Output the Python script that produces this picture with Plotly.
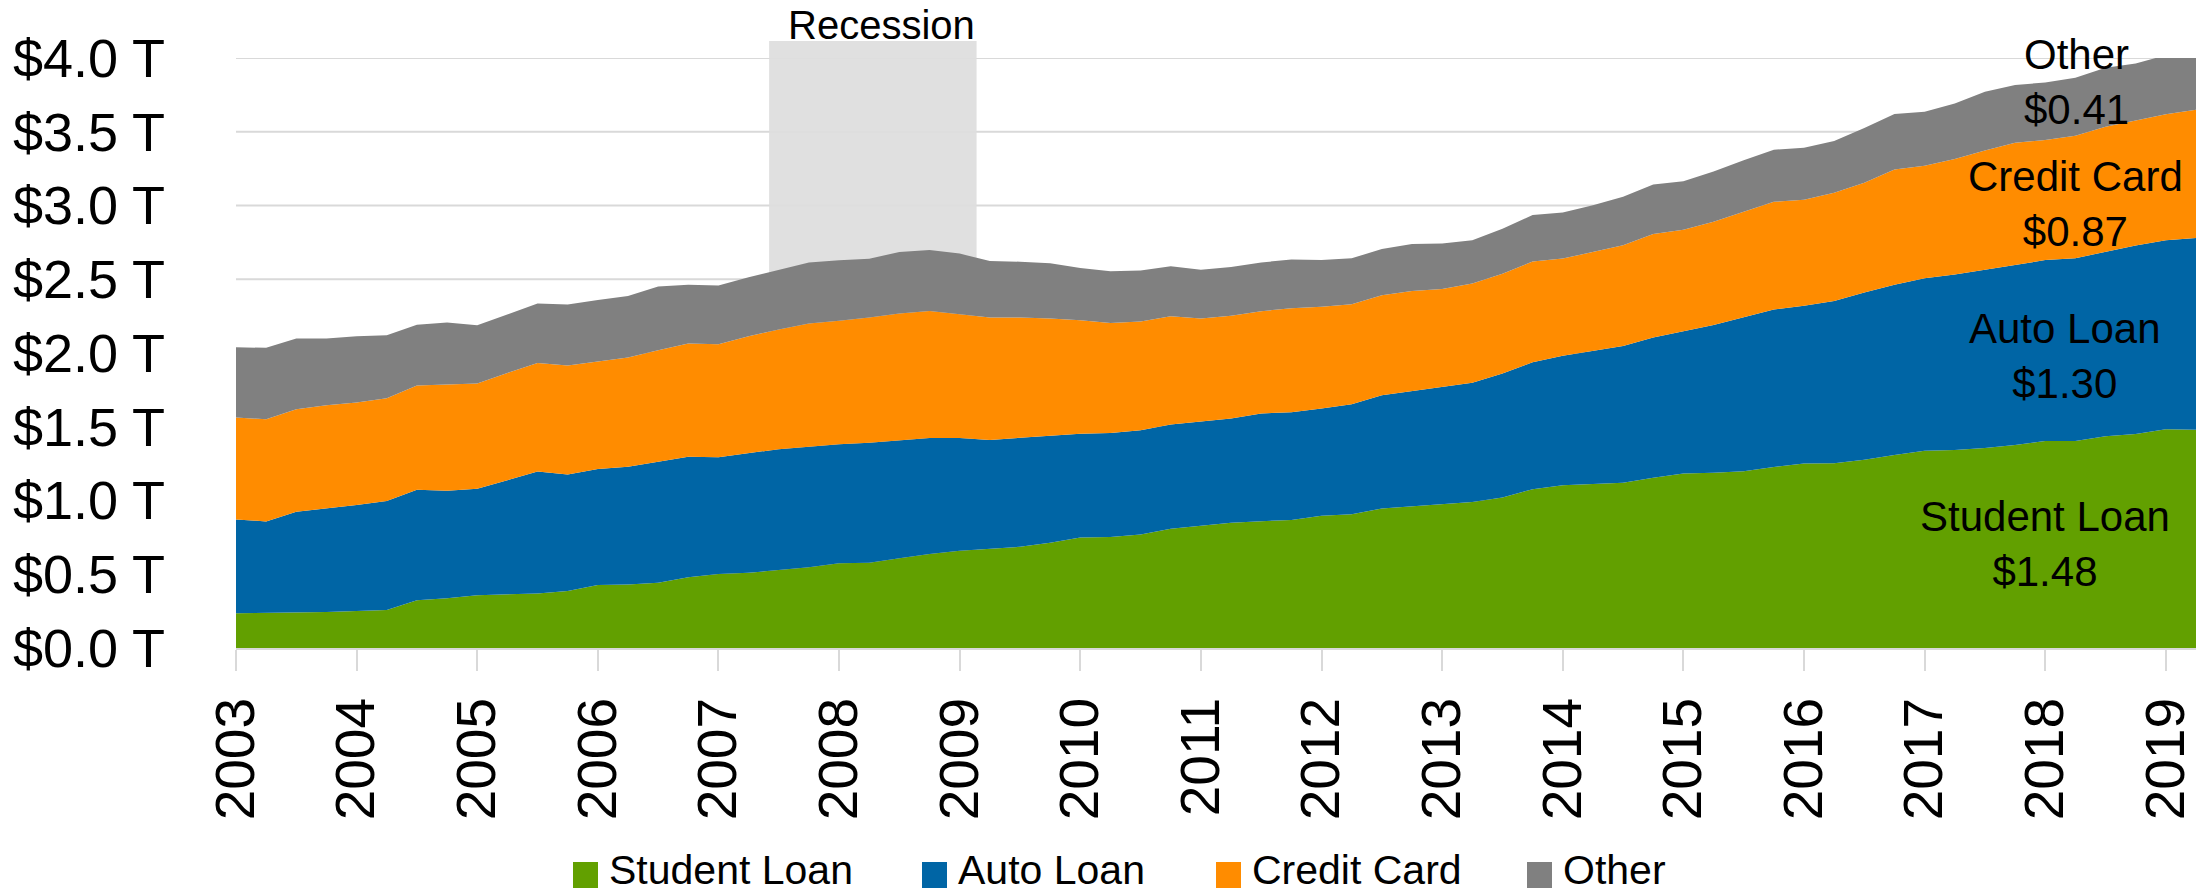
import plotly.graph_objects as go

# Non-housing household debt, trillions of dollars, quarterly 2003Q1-2019Q2
QUARTERS = [f"{y}Q{q}" for y in range(2003, 2020) for q in range(1, 5)][:66]

SERIES_NAMES = ["Student Loan", "Auto Loan", "Credit Card", "Other"]
SERIES_COLORS = ["#62A000", "#0065A5", "#FF8C00", "#808080"]

student_loan = [
    0.235, 0.237, 0.242, 0.244, 0.251, 0.257, 0.323, 0.337, 0.357, 0.364,
    0.370, 0.386, 0.427, 0.431, 0.443, 0.479, 0.501, 0.510, 0.528, 0.547,
    0.574, 0.578, 0.608, 0.637, 0.659, 0.671, 0.686, 0.713, 0.750, 0.752,
    0.770, 0.808, 0.831, 0.849, 0.860, 0.867, 0.897, 0.906, 0.946, 0.960,
    0.976, 0.989, 1.021, 1.077, 1.104, 1.111, 1.120, 1.154, 1.183, 1.188,
    1.198, 1.227, 1.251, 1.253, 1.277, 1.309, 1.338, 1.343, 1.356, 1.377,
    1.404, 1.404, 1.436, 1.451, 1.483, 1.480,
]
auto_loan = [
    0.637, 0.621, 0.682, 0.702, 0.718, 0.739, 0.750, 0.729, 0.722, 0.774,
    0.827, 0.791, 0.786, 0.797, 0.819, 0.817, 0.793, 0.813, 0.820, 0.817,
    0.808, 0.813, 0.801, 0.786, 0.764, 0.740, 0.739, 0.723, 0.702, 0.705,
    0.707, 0.708, 0.707, 0.707, 0.730, 0.732, 0.727, 0.747, 0.768, 0.781,
    0.794, 0.809, 0.840, 0.861, 0.877, 0.903, 0.928, 0.951, 0.967, 1.002,
    1.045, 1.068, 1.070, 1.100, 1.134, 1.154, 1.168, 1.189, 1.208, 1.219,
    1.226, 1.239, 1.252, 1.277, 1.281, 1.300,
]
credit_card = [
    0.691, 0.693, 0.695, 0.700, 0.695, 0.698, 0.707, 0.720, 0.714, 0.727,
    0.736, 0.738, 0.727, 0.741, 0.757, 0.768, 0.766, 0.791, 0.811, 0.836,
    0.836, 0.849, 0.859, 0.862, 0.840, 0.829, 0.815, 0.798, 0.770, 0.747,
    0.736, 0.733, 0.696, 0.696, 0.693, 0.705, 0.689, 0.678, 0.678, 0.680,
    0.664, 0.673, 0.677, 0.682, 0.659, 0.671, 0.682, 0.702, 0.686, 0.700,
    0.716, 0.730, 0.718, 0.733, 0.743, 0.781, 0.764, 0.783, 0.809, 0.830,
    0.814, 0.830, 0.846, 0.851, 0.855, 0.870,
]
other = [
    0.476, 0.484, 0.479, 0.452, 0.450, 0.427, 0.411, 0.421, 0.395, 0.398,
    0.402, 0.413, 0.420, 0.417, 0.432, 0.399, 0.397, 0.400, 0.406, 0.414,
    0.410, 0.399, 0.417, 0.414, 0.411, 0.383, 0.379, 0.374, 0.355, 0.350,
    0.347, 0.339, 0.331, 0.331, 0.331, 0.330, 0.318, 0.311, 0.313, 0.318,
    0.308, 0.294, 0.304, 0.316, 0.313, 0.316, 0.329, 0.335, 0.328, 0.340,
    0.348, 0.353, 0.353, 0.352, 0.372, 0.376, 0.365, 0.377, 0.399, 0.391,
    0.390, 0.393, 0.400, 0.384, 0.400, 0.410,
]

YEAR_TICKS = list(range(2003, 2020))
Y_TICKS = [0.0, 0.5, 1.0, 1.5, 2.0, 2.5, 3.0, 3.5, 4.0]
Y_TICK_LABELS = [f"${v:.1f} T" for v in Y_TICKS]

# Recession band, in fractional years
RECESSION_START, RECESSION_END = 2007.42, 2009.14

FONT = "Liberation Sans, Arial, sans-serif"
GRID = "#D9D9D9"

# Plot-area geometry in pixels
W, H = 2206, 895
PL, PR, PT, PB = 236, 2196, 58, 648


def paper_x(px):
    return (px - PL) / (PR - PL)


def paper_y(py):
    return (PB - py) / (PB - PT)


x = [int(q[:4]) + (int(q[-1]) - 1) / 4 for q in QUARTERS]
values = [student_loan, auto_loan, credit_card, other]

fig = go.Figure()
for name, color, ys in zip(SERIES_NAMES, SERIES_COLORS, values):
    fig.add_trace(go.Scatter(
        x=x, y=ys, name=name, mode="lines",
        stackgroup="debt", line=dict(width=0, color=color),
        fillcolor=color, showlegend=False,
        hovertemplate="%{x}: $%{y:.2f} T<extra>" + name + "</extra>",
    ))

shapes = []
# Horizontal gridlines drawn first so the recession band sits over them
for v in Y_TICKS[1:]:
    shapes.append(dict(type="line", xref="paper", yref="y", x0=0, x1=1,
                       y0=v, y1=v, line=dict(color=GRID, width=2),
                       layer="below"))
shapes.append(dict(type="rect", xref="x", yref="paper",
                   x0=RECESSION_START, x1=RECESSION_END,
                   y0=0, y1=paper_y(41), fillcolor="#DEDEDE",
                   opacity=0.93, line=dict(width=0), layer="below"))

annotations = [dict(
    text="Recession", xref="x", yref="paper",
    x=(RECESSION_START + RECESSION_END) / 2 + 0.07, y=paper_y(2),
    xanchor="center", yanchor="top", showarrow=False, borderpad=0,
    font=dict(family=FONT, size=40, color="black"),
)]

# End-of-series labels: name and latest value
label_pos = [(2018.00, 0.708), (2018.16, 1.981), (2018.25, 3.008), (2018.26, 3.84)]
for name, ys, (lx, ly) in zip(SERIES_NAMES, values, label_pos):
    annotations.append(dict(
        text=f"{name}<br>${ys[-1]:.2f}", x=lx, y=ly, xref="x", yref="y",
        xanchor="center", yanchor="middle", showarrow=False, align="center",
        font=dict(family=FONT, size=42, color="black"),
    ))

# Legend row at the bottom
legend_swatch_px = [573, 922, 1216, 1527]
for name, color, sx in zip(SERIES_NAMES, SERIES_COLORS, legend_swatch_px):
    shapes.append(dict(type="rect", xref="paper", yref="paper",
                       x0=paper_x(sx), x1=paper_x(sx + 25),
                       y0=paper_y(888), y1=paper_y(862),
                       fillcolor=color, line=dict(width=0)))
    annotations.append(dict(
        text=name, xref="paper", yref="paper",
        x=paper_x(sx + 35), y=paper_y(894), xanchor="left", yanchor="bottom",
        showarrow=False, borderpad=0,
        font=dict(family=FONT, size=41, color="black"),
    ))

fig.update_layout(
    width=W, height=H,
    margin=dict(l=PL, r=W - PR, t=PT, b=H - PB),
    paper_bgcolor="white", plot_bgcolor="white",
    font=dict(family=FONT, color="black"),
    showlegend=False,
    shapes=shapes, annotations=annotations,
    xaxis=dict(
        range=[2003, 2019.25], tickmode="array", tickvals=YEAR_TICKS,
        ticktext=[str(y) for y in YEAR_TICKS], tickangle=-90,
        ticks="outside", ticklen=21, tickwidth=2, tickcolor=GRID,
        showline=True, linecolor=GRID, linewidth=2,
        showgrid=False, zeroline=False,
        tickfont=dict(family=FONT, size=55, color="black"),
        ticklabelstandoff=5,
    ),
    yaxis=dict(
        range=[0, 4.0], tickmode="array", tickvals=Y_TICKS,
        ticktext=Y_TICK_LABELS, showgrid=False, zeroline=False,
        showline=False, ticks="",
        tickfont=dict(family=FONT, size=54, color="black"),
        ticklabelstandoff=70,
    ),
)

fig.write_html("out.html")
